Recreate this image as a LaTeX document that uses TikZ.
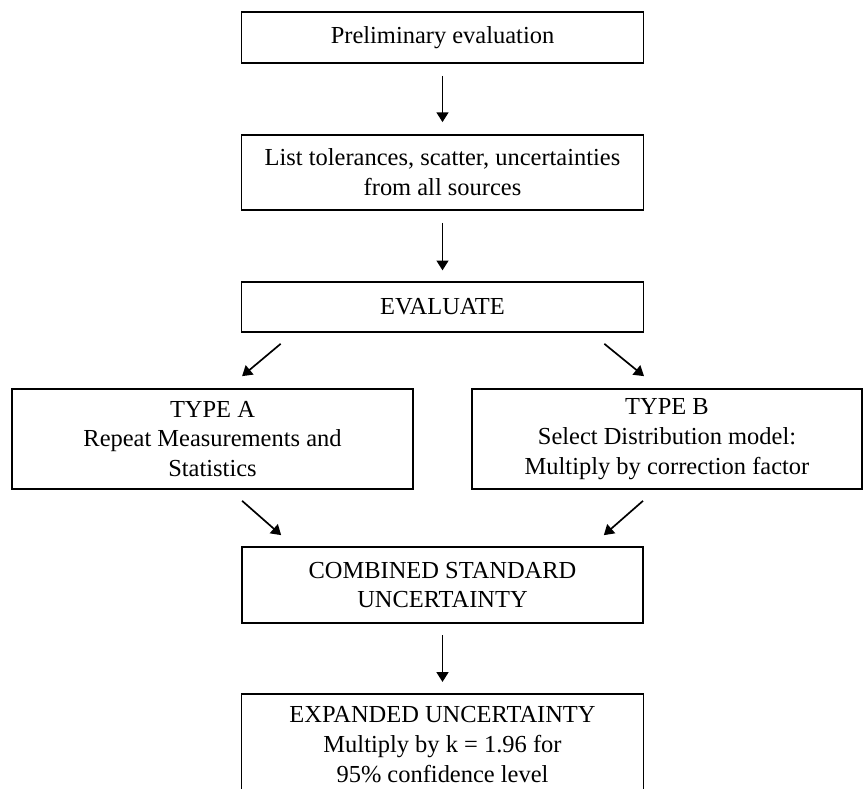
\documentclass[tikz,border=0pt]{standalone}
\usepackage{fontspec}
\setmainfont{Liberation Serif}
\usetikzlibrary{arrows.meta}
\begin{document}
\begin{tikzpicture}[
	flowBox/.style={rectangle, draw=black, line width=1.2pt, align=center, inner sep=0pt, font=\fontsize{17.4}{21.3}\selectfont},
	flowArrow/.style={-{Triangle[length=7pt,width=8.5pt]}, line width=1.2pt, color=black}]
	\useasboundingbox (0,0) rectangle (21.6,19.725);

	\node[flowBox, minimum width=10.05cm, minimum height=1.275cm](prelimBox) at (11.0625,18.7875){Preliminary evaluation};
	\node[flowBox, minimum width=10.05cm, minimum height=1.875cm](listBox) at (11.0625,15.4125){List tolerances, scatter, uncertainties\\from all sources};
	\node[flowBox, minimum width=10.05cm, minimum height=1.25cm](evalBox) at (11.0625,12.05){EVALUATE};

	\node[flowBox, minimum width=10.025cm, minimum height=2.5cm](typeABox) at (5.3125,8.75){TYPE A\\Repeat Measurements and\\Statistics};
	\node[flowBox, minimum width=9.75cm, minimum height=2.5cm](typeBBox) at (16.675,8.75){TYPE B\\Select Distribution model:\\Multiply by correction factor};

	\node[flowBox, minimum width=10.025cm, minimum height=1.9cm](combinedBox) at (11.0625,5.1){COMBINED STANDARD\\UNCERTAINTY};
	\node[flowBox, minimum width=10.05cm, minimum height=2.55cm](expandedBox) at (11.0625,1.1){EXPANDED UNCERTAINTY\\Multiply by k = 1.96 for\\95\% confidence level};

	\draw [flowArrow, shorten <=0.3cm, shorten >=0.3cm] (prelimBox.south) -- (listBox.north);
	\draw [flowArrow, shorten <=0.3cm, shorten >=0.27cm] (listBox.south) -- (evalBox.north);

	\draw [flowArrow] ([xshift=1cm, yshift=-0.275cm]evalBox.south west) -- ([xshift=0.74cm, yshift=0.3cm]typeABox.north);
	\draw [flowArrow] ([xshift=-1cm, yshift=-0.275cm]evalBox.south east) -- ([xshift=-0.575cm, yshift=0.3cm]typeBBox.north);

	\draw [flowArrow] ([xshift=0.74cm, yshift=-0.275cm]typeABox.south) -- ([xshift=1cm, yshift=0.275cm]combinedBox.north west);
	\draw [flowArrow] ([xshift=-0.6cm, yshift=-0.275cm]typeBBox.south) -- ([xshift=-1cm, yshift=0.275cm]combinedBox.north east);

	\draw [flowArrow, shorten <=0.28cm, shorten >=0.28cm] (combinedBox.south) -- (expandedBox.north);

\end{tikzpicture}
\end{document}
